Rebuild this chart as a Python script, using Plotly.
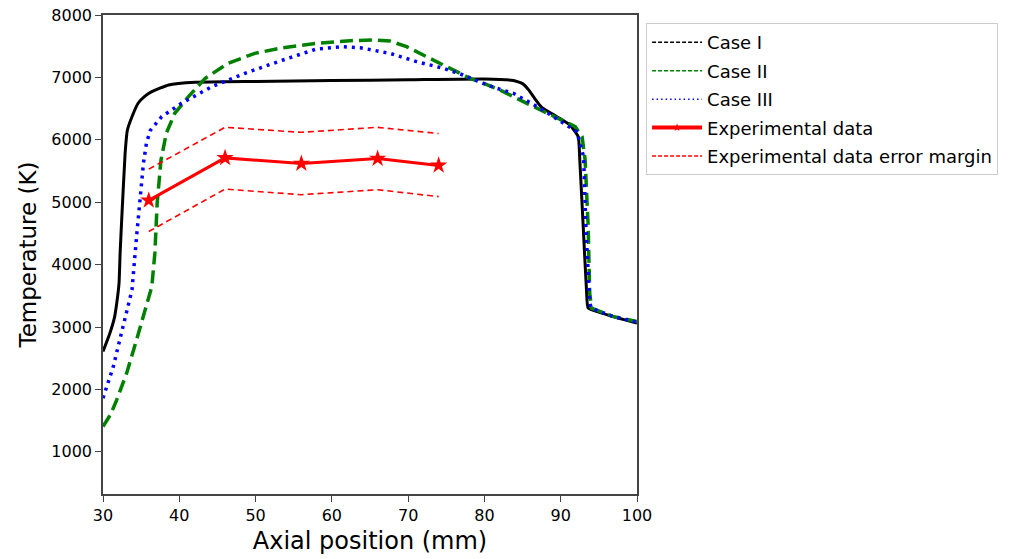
import plotly.graph_objects as go

# ---- data ----
case1_x = [30.0, 30.9, 31.5, 31.8, 32.1, 32.25, 32.45, 32.9, 33.2, 33.8, 34.6, 35.5, 36.4, 38.6, 42.1,
           50, 60, 70, 80, 83.8, 85.0, 85.8, 86.6, 87.5, 89.5, 91.2, 92.3, 92.5, 92.95, 93.4, 93.6, 96.9, 100]
case1_y = [2607, 2900, 3150, 3382, 3700, 4200, 4716, 5785, 6158, 6370, 6586, 6700, 6771, 6879, 6922,
           6935, 6950, 6962, 6975, 6950, 6900, 6800, 6660, 6520, 6370, 6238, 6050, 5677, 4609, 3542, 3302, 3167, 3062]

case2_x = [30.0, 31.0, 31.8, 33.1, 34.4, 35.5, 36.4, 36.8, 37.1, 37.6, 38.3, 39.4, 41.2, 43.4, 46.4,
           49.9, 53.6, 58.0, 62.4, 65.4, 67.6, 69.8, 72.4, 75.5, 78.1, 80.0, 82.0, 85.1, 87.3, 89.5,
           91.9, 92.8, 93.2, 93.6, 93.8, 94.05, 96.9, 100]
case2_y = [1405, 1600, 1833, 2260, 2794, 3275, 3648, 4183, 4984, 5677, 6105, 6425, 6691, 6986, 7226,
           7386, 7476, 7547, 7589, 7600, 7584, 7492, 7332, 7146, 6986, 6900, 6800, 6612, 6478, 6345,
           6211, 6051, 5677, 4609, 3542, 3302, 3167, 3087]

case3_x = [30.0, 31.35, 32.2, 33.1, 33.8, 34.4, 34.85, 35.3, 35.7, 36.2, 37.7, 40.3, 44.25, 48.6,
           53.6, 58.0, 61.5, 63.7, 67.6, 71.1, 74.6, 77.2, 79.8, 81.6, 83.8, 87.3, 92.1, 93.0, 93.3,
           93.8, 94.0, 96.9, 100]
case3_y = [1860, 2366, 2794, 3222, 3595, 4449, 5090, 5625, 5950, 6150, 6371, 6586, 6851, 7066,
           7279, 7455, 7492, 7476, 7386, 7252, 7146, 7039, 6906, 6826, 6745, 6505, 6131, 5730, 4609,
           3400, 3302, 3167, 3075]

exp_x = [36, 46, 56, 66, 74]
exp_y = [5030, 5710, 5620, 5700, 5590]
exp_upper = [5530, 6200, 6120, 6200, 6100]
exp_lower = [4530, 5210, 5120, 5200, 5090]

x_ticks = [30, 40, 50, 60, 70, 80, 90, 100]
y_ticks = [1000, 2000, 3000, 4000, 5000, 6000, 7000, 8000]

FONT = "DejaVu Sans"
fig = go.Figure()

# plotted curves (legend entries drawn separately, as in the reference)
fig.add_trace(go.Scatter(x=case1_x, y=case1_y, mode="lines", showlegend=False,
                         line=dict(color="black", width=3, shape="spline", smoothing=0.4)))
fig.add_trace(go.Scatter(x=case2_x, y=case2_y, mode="lines", showlegend=False,
                         line=dict(color="green", width=3.5, dash="13px,6px")))
fig.add_trace(go.Scatter(x=case3_x, y=case3_y, mode="lines", showlegend=False,
                         line=dict(color="blue", width=3.5, dash="3px,5px")))
fig.add_trace(go.Scatter(x=exp_x, y=exp_upper, mode="lines", showlegend=False,
                         line=dict(color="red", width=1.6, dash="6px,4px")))
fig.add_trace(go.Scatter(x=exp_x, y=exp_lower, mode="lines", showlegend=False,
                         line=dict(color="red", width=1.6, dash="6px,4px")))
fig.add_trace(go.Scatter(x=exp_x, y=exp_y, mode="lines+markers", showlegend=False,
                         line=dict(color="red", width=3),
                         marker=dict(symbol="star", size=13, color="red")))

# legend-only entries
leg = [
    ("Case I", dict(color="black", width=1.5, dash="4px,2px"), None),
    ("Case II", dict(color="green", width=1.5, dash="4px,2px"), None),
    ("Case III", dict(color="blue", width=1.5, dash="1.5px,3px"), None),
    ("Experimental data", dict(color="red", width=4), dict(symbol="star", size=6, color="red")),
    ("Experimental data error margin", dict(color="red", width=1.5, dash="4px,2px"), None),
]
for i, (name, ln, mk) in enumerate(leg):
    fig.add_trace(go.Scatter(x=[None], y=[None], name=name, legendgroup=f"g{i}",
                             mode="lines+markers" if mk else "lines",
                             line=ln, marker=mk if mk else None))

fig.update_layout(
    width=1017, height=559,
    margin=dict(l=103, r=380, t=15, b=65, autoexpand=False),
    paper_bgcolor="white", plot_bgcolor="white",
    font=dict(family=FONT, color="black", size=16),
    legend=dict(x=1.017, y=0.983, xanchor="left", yanchor="top",
                bordercolor="#cccccc", borderwidth=1, bgcolor="white",
                font=dict(family=FONT, size=18, color="black"),
                tracegroupgap=2, traceorder="grouped", itemwidth=50),
    xaxis=dict(range=[30, 100], tickvals=x_ticks, ticktext=[str(v) for v in x_ticks],
               showgrid=False, zeroline=False, showline=True, linecolor="#444444", linewidth=1.5,
               mirror=True, ticks="outside", ticklen=6, tickcolor="#444444",
               tickfont=dict(family=FONT, size=16),
               title=dict(text="Axial position (mm)", font=dict(family=FONT, size=24), standoff=8)),
    yaxis=dict(range=[324, 8000], tickvals=y_ticks, ticktext=[str(v) for v in y_ticks],
               showgrid=False, zeroline=False, showline=True, linecolor="#444444", linewidth=1.5,
               mirror=True, ticks="outside", ticklen=6, tickcolor="#444444",
               tickfont=dict(family=FONT, size=16),
               title=dict(text="Temperature (K)", font=dict(family=FONT, size=23), standoff=8)),
)

# remove the browser's default 8px page margin so the figure fills the window exactly
fig.write_html("out.html", config={"displayModeBar": False},
               post_script="document.body.style.margin='0px';")
